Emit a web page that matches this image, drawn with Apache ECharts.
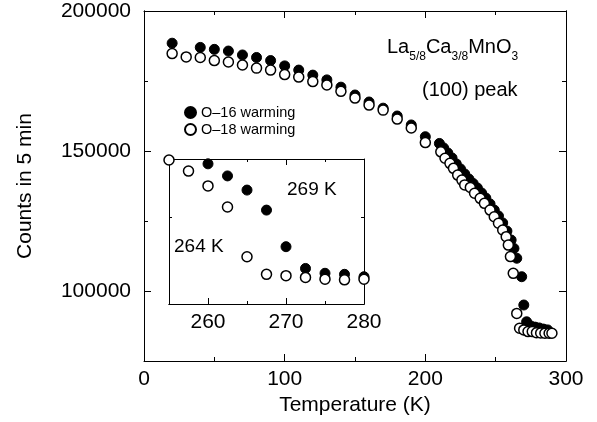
<!DOCTYPE html>
<html>
<head>
<meta charset="utf-8">
<script src="https://cdn.jsdelivr.net/npm/echarts@6/dist/echarts.min.js"></script>
<style>
html,body{margin:0;padding:0;background:#fff;}
#chart{width:597px;height:422px;}
</style>
</head>
<body>
<div id="chart"></div>
<script>
// ---- Data ----
var seriesNames = ['O–16 warming', 'O–18 warming'];

// Main panel: O-16 warming (filled circles)
var tempO16 = [20,40,50,60,70,80,90,100,110,120,130,140,150,160,170,180,190,200,210,213,216,219,222,225,228,231,234,237,240,243,246,249,252,255,258,261,263,265,268.5,270,272,275,278,281,284,287];
var countsO16 = [188500,187000,186300,185700,184300,183400,182300,180400,178900,177100,175400,172800,170000,167500,165300,162500,159300,155100,152700,151100,149300,147500,145400,143600,141800,140000,138400,136800,135000,133200,131100,128900,126800,124300,121400,118200,115200,111700,105100,95000,89000,87500,87100,86800,86400,86100];

// Main panel: O-18 warming (open circles)
var tempO18 = [20,30,40,50,60,70,80,90,100,110,120,130,140,150,160,170,180,190,200,211,214,217.5,220,223,226,228,232,235,239,242,246,249,252,255,257.5,259,260.5,262.5,265,267,270,273,276,279,282,285,288,290];
var countsO18 = [184800,183600,183400,182300,181800,180700,179600,178900,177300,176400,174800,173600,171300,168900,166400,164600,161400,158200,153000,149700,147400,145600,143800,141400,139600,137900,137000,134900,133100,131300,128900,126500,124200,121800,119400,116400,112300,106300,92000,86700,86100,85500,85500,85100,85000,84900,84900,84900];

// Inset panel (transition region)
var insetTempO16 = [260,262.5,265,267.5,270,272.5,275,277.5,280];
var insetCountsO16 = [115600,112100,108000,102200,91600,85300,83900,83600,82900];
var insetTempO18 = [255,257.5,260,262.5,265,267.5,270,272.5,275,277.5,280];
var insetCountsO18 = [116700,113500,109200,103100,88700,83600,83200,82700,82200,82000,82200];

// Tick labels
var mainYTicks = [100000, 150000, 200000];
var mainYMinorTicks = [125000, 175000];
var insetXTicks = [260, 270, 280];
var insetXMinorTicks = [265, 275];
var insetYTicks = [100000];

function zip(a, b) { return a.map(function (v, i) { return [v, b[i]]; }); }

var FONT = '"Liberation Sans", Arial, Helvetica, sans-serif';
var black = '#000';
var FS = 21;
var plain = function (v) { return String(v); };

function xAx(o) {
  return Object.assign({
    type: 'value', splitLine: { show: false },
    axisLine: { show: true, onZero: false, lineStyle: { color: black, width: 1 } },
    axisTick: { show: true, inside: true, length: 7, lineStyle: { color: black, width: 1 } },
    axisLabel: { show: false }
  }, o);
}
function yAx(o) {
  return Object.assign({
    type: 'value', splitLine: { show: false },
    axisLine: { show: true, onZero: false, lineStyle: { color: black, width: 1 } },
    axisTick: { show: true, inside: true, length: 7, lineStyle: { color: black, width: 1 } },
    axisLabel: { show: false }
  }, o);
}

var filledStyle = { color: black, borderColor: black, borderWidth: 1, opacity: 1 };
var openStyle = { color: '#fff', borderColor: black, borderWidth: 1.5, opacity: 1 };

var option = {
  backgroundColor: '#fff',
  animation: false,
  textStyle: { fontFamily: FONT, color: black },
  grid: [
    { left: 144, right: 31, top: 11, bottom: 61, show: false },
    { left: 169, right: 233, top: 159, bottom: 118, show: true, backgroundColor: '#fff', borderWidth: 0 }
  ],
  legend: {
    data: seriesNames,
    orient: 'vertical', left: 184, top: 105, padding: 0,
    itemWidth: 11, itemHeight: 11, itemGap: 2, icon: 'circle',
    textStyle: { fontSize: 14.5, fontFamily: FONT, color: black, lineHeight: 15 },
    selectedMode: false
  },
  xAxis: [
    xAx({ gridIndex: 0, position: 'bottom', min: 0, max: 300, interval: 100,
      minorTick: { show: true, splitNumber: 2, length: 4, lineStyle: { color: black, width: 1 } },
      axisLabel: { show: true, color: black, fontSize: FS, fontFamily: FONT, margin: 8, formatter: plain },
      name: 'Temperature (K)', nameLocation: 'middle', nameGap: 28,
      nameTextStyle: { fontSize: FS, fontFamily: FONT, color: black } }),
    xAx({ gridIndex: 0, position: 'top', min: 0, max: 300, interval: 100,
      minorTick: { show: true, splitNumber: 2, length: 4, lineStyle: { color: black, width: 1 } } }),
    xAx({ gridIndex: 1, position: 'bottom', min: 255, max: 280,
      axisTick: { show: true, inside: true, length: 6, customValues: insetXTicks, lineStyle: { color: black, width: 1 } },
      axisLabel: { show: true, customValues: insetXTicks, color: black, fontSize: FS, fontFamily: FONT, margin: 8, formatter: plain } }),
    xAx({ gridIndex: 1, position: 'bottom', min: 255, max: 280,
      axisTick: { show: true, inside: true, length: 3, customValues: insetXMinorTicks, lineStyle: { color: black, width: 1 } } }),
    xAx({ gridIndex: 1, position: 'top', min: 255, max: 280,
      axisTick: { show: true, inside: true, length: 6, customValues: insetXTicks, lineStyle: { color: black, width: 1 } } }),
    xAx({ gridIndex: 1, position: 'top', min: 255, max: 280,
      axisTick: { show: true, inside: true, length: 3, customValues: insetXMinorTicks, lineStyle: { color: black, width: 1 } } })
  ],
  yAxis: [
    yAx({ gridIndex: 0, position: 'left', min: 75000, max: 200000,
      axisTick: { show: true, inside: true, length: 7, customValues: mainYTicks, lineStyle: { color: black, width: 1 } },
      axisLabel: { show: true, customValues: mainYTicks, color: black, fontSize: FS, fontFamily: FONT, margin: 13, formatter: plain },
      name: 'Counts in 5 min', nameLocation: 'middle', nameGap: 108,
      nameTextStyle: { fontSize: FS, fontFamily: FONT, color: black } }),
    yAx({ gridIndex: 0, position: 'right', min: 75000, max: 200000,
      axisTick: { show: true, inside: true, length: 7, customValues: mainYTicks, lineStyle: { color: black, width: 1 } } }),
    yAx({ gridIndex: 0, position: 'left', min: 75000, max: 200000,
      axisTick: { show: true, inside: true, length: 4, customValues: mainYMinorTicks, lineStyle: { color: black, width: 1 } } }),
    yAx({ gridIndex: 0, position: 'right', min: 75000, max: 200000,
      axisTick: { show: true, inside: true, length: 4, customValues: mainYMinorTicks, lineStyle: { color: black, width: 1 } } }),
    yAx({ gridIndex: 1, position: 'left', min: 75000, max: 117000,
      axisTick: { show: true, inside: true, length: 3, customValues: insetYTicks, lineStyle: { color: black, width: 1 } } }),
    yAx({ gridIndex: 1, position: 'right', min: 75000, max: 117000,
      axisTick: { show: true, inside: true, length: 3, customValues: insetYTicks, lineStyle: { color: black, width: 1 } } })
  ],
  series: [
    { name: seriesNames[0], type: 'scatter', xAxisIndex: 0, yAxisIndex: 0, symbol: 'circle', symbolSize: 10,
      itemStyle: filledStyle, data: zip(tempO16, countsO16), z: 2 },
    { name: seriesNames[1], type: 'scatter', xAxisIndex: 0, yAxisIndex: 0, symbol: 'circle', symbolSize: 10,
      itemStyle: openStyle, data: zip(tempO18, countsO18), z: 3 },
    { name: seriesNames[0], type: 'scatter', xAxisIndex: 2, yAxisIndex: 4, symbol: 'circle', symbolSize: 10,
      itemStyle: filledStyle, data: zip(insetTempO16, insetCountsO16), z: 4, clip: false },
    { name: seriesNames[1], type: 'scatter', xAxisIndex: 2, yAxisIndex: 4, symbol: 'circle', symbolSize: 10,
      itemStyle: openStyle, data: zip(insetTempO18, insetCountsO18), z: 5, clip: false }
  ],
  graphic: [
    { type: 'text', left: 387, top: 37, z: 10,
      style: { fontFamily: FONT, fill: black,
        text: '{n|La}{s|5/8}{n|Ca}{s|3/8}{n|MnO}{s|3}',
        rich: {
          n: { fontSize: 20, lineHeight: 22, verticalAlign: 'top', fontFamily: FONT, fill: black },
          s: { fontSize: 12, lineHeight: 12, padding: [14, 0, 0, 0], verticalAlign: 'top', fontFamily: FONT, fill: black }
        } } },
    { type: 'text', left: 422, top: 80, z: 10,
      style: { text: '(100) peak', fontSize: 20, fontFamily: FONT, fill: black } },
    { type: 'text', left: 287, top: 180, z: 10,
      style: { text: '269 K', fontSize: 19, fontFamily: FONT, fill: black } },
    { type: 'text', left: 174, top: 237, z: 10,
      style: { text: '264 K', fontSize: 19, fontFamily: FONT, fill: black } }
  ]
};

var chart = echarts.init(document.getElementById('chart'), null, { renderer: 'canvas' });
chart.setOption(option);
</script>
</body>
</html>
